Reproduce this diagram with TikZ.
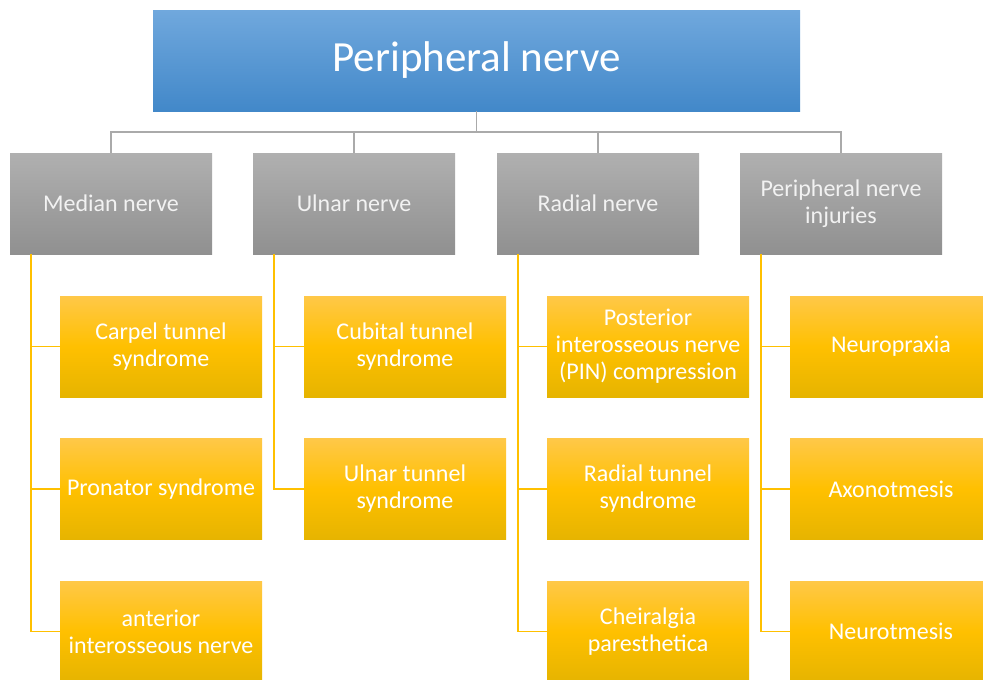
\documentclass[tikz,border=0pt]{standalone}
\usepackage{fontspec}
\setmainfont{Carlito}
\definecolor{bluetop}{RGB}{112,168,221}
\definecolor{bluebot}{RGB}{66,136,201}
\definecolor{graytop}{RGB}{176,176,176}
\definecolor{graybot}{RGB}{144,144,144}
\definecolor{yeltop}{RGB}{255,200,72}
\definecolor{yelmid}{RGB}{255,192,0}
\definecolor{yelbot}{RGB}{230,180,0}
\definecolor{grayline}{RGB}{170,170,170}
\definecolor{yelline}{RGB}{255,192,0}
\tikzset{
  topbox/.style={rectangle, minimum width=647pt, minimum height=101pt, inner sep=0pt,
    top color=bluetop, bottom color=bluebot, text=white,
    font=\fontsize{43}{50}\selectfont},
  graybox/.style={rectangle, minimum width=202pt, minimum height=101pt, inner sep=0pt,
    top color=graytop, bottom color=graybot, text=white!95!black, align=center,
    font=\fontsize{24}{27}\selectfont},
  yelbox/.style={rectangle, minimum width=202pt, minimum height=101pt, inner sep=0pt,
    top color=yeltop, bottom color=yelbot, middle color=yelmid, text=white, align=center,
    font=\fontsize{24}{27}\selectfont},
  gline/.style={draw=grayline, line width=1.5pt},
  yline/.style={draw=yelline, line width=1.5pt},
}
\begin{document}
\begin{tikzpicture}[x=1pt,y=-1pt]
\useasboundingbox (0,0) rectangle (983,680);
\clip (0,0) rectangle (983,680);
\fill[white] (0,0) rectangle (983,680);
% top
\node[topbox] (top) at (476.5,60.5) {Peripheral nerve};
% gray
\node[graybox] (g1) at (111,203.5) {Median nerve};
\node[graybox] (g2) at (354,203.5) {Ulnar nerve};
\node[graybox] (g3) at (598,203.5) {Radial nerve};
\node[graybox] (g4) at (841,203.5) {Peripheral nerve\\injuries};
\coordinate (hub) at (476.5,132);
\draw[gline] (top.south) -- (hub);
\foreach \g in {g1,g2,g3,g4}{
  \draw[gline] (hub) -| (\g.north);
}
% yellow column 1
\node[yelbox] (a1) at (161,346.5) {Carpel tunnel\\syndrome};
\node[yelbox] (a2) at (161,489) {Pronator syndrome};
\node[yelbox] (a3) at (161,631.5) {anterior\\interosseous nerve};
% column 2
\node[yelbox] (b1) at (405,346.5) {Cubital tunnel\\syndrome};
\node[yelbox] (b2) at (405,489) {Ulnar tunnel\\syndrome};
% column 3
\node[yelbox] (c1) at (648,346.5) {Posterior\\interosseous nerve\\(PIN) compression};
\node[yelbox] (c2) at (648,489) {Radial tunnel\\syndrome};
\node[yelbox] (c3) at (648,631.5) {Cheiralgia\\paresthetica};
% column 4
\node[yelbox] (d1) at (891,346.5) {Neuropraxia};
\node[yelbox] (d2) at (891,489) {Axonotmesis};
\node[yelbox] (d3) at (891,631.5) {Neurotmesis};
% yellow connectors
\coordinate (s1) at ([xshift=21pt]g1.south west);
\coordinate (s2) at ([xshift=21pt]g2.south west);
\coordinate (s3) at ([xshift=21pt]g3.south west);
\coordinate (s4) at ([xshift=21pt]g4.south west);
\foreach \n in {a1,a2,a3}{\draw[yline] (s1) |- (\n.west);}
\foreach \n in {b1,b2}{\draw[yline] (s2) |- (\n.west);}
\foreach \n in {c1,c2,c3}{\draw[yline] (s3) |- (\n.west);}
\foreach \n in {d1,d2,d3}{\draw[yline] (s4) |- (\n.west);}
\end{tikzpicture}
\end{document}
